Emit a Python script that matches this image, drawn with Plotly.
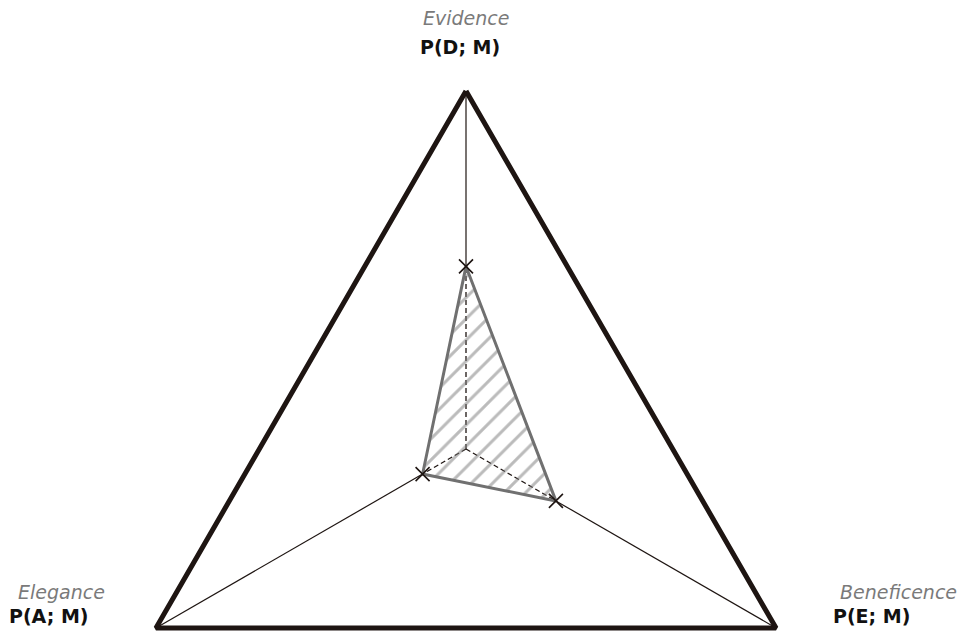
import math
import plotly.graph_objects as go

# Data
axis_names = ["Evidence", "Beneficence", "Elegance"]
axis_labels = ["P(D; M)", "P(E; M)", "P(A; M)"]
axis_angles = [90, -30, 210]
values = [0.51, 0.29, 0.14]

DARK = "#1e1512"
GRAY = "#707070"
FONT = "DejaVu Sans"


def pol(r, ang):
    a = math.radians(ang)
    return r * math.cos(a), r * math.sin(a)


fig = go.Figure()

# outer triangle
vx, vy = [], []
for ang in axis_angles + [axis_angles[0]]:
    x, y = pol(1.0, ang)
    vx.append(x)
    vy.append(y)
fig.add_trace(go.Scatter(x=vx, y=vy, mode="lines",
                         line=dict(color=DARK, width=5), hoverinfo="skip", showlegend=False))

# spokes
for v, ang in zip(values, axis_angles):
    x0, y0 = pol(0, ang)
    x1, y1 = pol(v, ang)
    x2, y2 = pol(1.0, ang)
    fig.add_trace(go.Scatter(x=[x1, x2], y=[y1, y2], mode="lines",
                             line=dict(color=DARK, width=1.2), hoverinfo="skip", showlegend=False))
    fig.add_trace(go.Scatter(x=[x0, x1], y=[y0, y1], mode="lines",
                             line=dict(color=DARK, width=1.3, dash="5px,3px"), hoverinfo="skip",
                             showlegend=False))

# data polygon with hatch
px, py = [], []
for v, ang in zip(values + [values[0]], axis_angles + [axis_angles[0]]):
    x, y = pol(v, ang)
    px.append(x)
    py.append(y)
fig.add_trace(go.Scatter(x=px, y=py, mode="lines", fill="toself",
                         fillcolor="rgba(0,0,0,0)",
                         fillpattern=dict(shape="/", fgcolor="#787878", bgcolor="rgba(255,255,255,0)",
                                          size=15, solidity=0.2),
                         line=dict(color=GRAY, width=3), hoverinfo="skip", showlegend=False))

# markers
mx = [pol(v, a)[0] for v, a in zip(values, axis_angles)]
my = [pol(v, a)[1] for v, a in zip(values, axis_angles)]
fig.add_trace(go.Scatter(x=mx, y=my, mode="markers",
                         marker=dict(symbol="x-thin", size=14, line=dict(color=DARK, width=1.6)),
                         hoverinfo="skip", showlegend=False))

# labels
S = 358.0
W, H = 958, 637
cx, cy = 466, 449
x_lo = -cx / S
x_hi = x_lo + W / S
y_hi = cy / S
y_lo = y_hi - H / S

# (name x, label x, name y, label y, anchor)
label_pos = [
    (466, 460, 18, 47, "center"),
    (838, 831, 592, 616, "left"),
    (16, 7, 592, 616, "left"),
]
for name, lab, (nx, lx, ny, ly, al) in zip(axis_names, axis_labels, label_pos):
    fig.add_annotation(x=nx / W, y=1 - ny / H, xref="paper", yref="paper", text="<i>" + name + "</i>",
                       showarrow=False, xanchor=al, yanchor="middle",
                       font=dict(family=FONT, size=19, color="#7a7a7a"))
    fig.add_annotation(x=lx / W, y=1 - ly / H, xref="paper", yref="paper", text="<b>" + lab + "</b>",
                       showarrow=False, xanchor=al, yanchor="middle",
                       font=dict(family=FONT, size=19, color="#111111"))

fig.update_layout(
    width=W, height=H, margin=dict(l=0, r=0, t=0, b=0),
    paper_bgcolor="white", plot_bgcolor="white",
    xaxis=dict(range=[x_lo, x_hi], visible=False, fixedrange=True),
    yaxis=dict(range=[y_lo, y_hi], visible=False, fixedrange=True),
)

fig.write_html("out.html", post_script="document.body.style.margin='0';",
               config={"displayModeBar": False})
